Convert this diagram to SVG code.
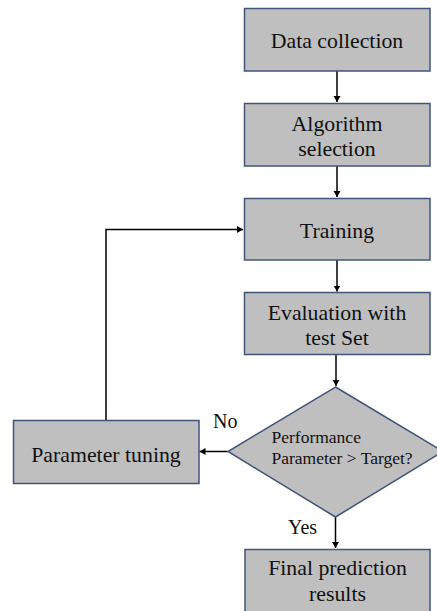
<svg xmlns="http://www.w3.org/2000/svg" width="437" height="611" viewBox="0 0 437 611">
<style>
.box{fill:#bfbfbf;stroke:#41557a;stroke-width:1.5}
.t{font-family:"Liberation Serif","Times New Roman",serif;font-size:21.8px;fill:#111;text-anchor:middle}
.s{font-family:"Liberation Serif","Times New Roman",serif;font-size:17.5px;fill:#111}
.l{font-family:"Liberation Serif","Times New Roman",serif;font-size:20px;fill:#111}
.c{fill:none;stroke:#000;stroke-width:1.5}
</style>
<defs>
<marker id="ah" markerWidth="8" markerHeight="8" refX="6" refY="3.5" orient="auto" markerUnits="userSpaceOnUse">
<path d="M0,0 L6,3.5 L0,7 Z" fill="#000"/>
</marker>
</defs>
<rect width="437" height="611" fill="#fff"/>
<g id="connectors">
<line class="c" x1="337" y1="71" x2="337" y2="102" marker-end="url(#ah)"/>
<line class="c" x1="337" y1="166" x2="337" y2="197" marker-end="url(#ah)"/>
<line class="c" x1="337" y1="260" x2="337" y2="291.5" marker-end="url(#ah)"/>
<line class="c" x1="336" y1="354.5" x2="336" y2="386" marker-end="url(#ah)"/>
<line class="c" x1="228" y1="451.5" x2="199.5" y2="451.5" marker-end="url(#ah)"/>
<polyline class="c" points="106,420.5 106,229.5 243,229.5" marker-end="url(#ah)"/>
<line class="c" x1="335.5" y1="517" x2="335.5" y2="548" marker-end="url(#ah)"/>
<text class="l" x="213" y="428">No</text>
<text class="l" x="288" y="534">Yes</text>
</g>
<g id="data-collection">
<rect class="box" x="244.5" y="8.5" width="185.5" height="62.5"/>
<text class="t" x="337" y="47.5">Data collection</text>
</g>
<g id="algorithm-selection">
<rect class="box" x="244.5" y="103.5" width="185.5" height="62.5"/>
<text class="t" x="337" y="130.5">Algorithm</text>
<text class="t" x="337" y="155.5">selection</text>
</g>
<g id="training">
<rect class="box" x="244.5" y="198.5" width="185.5" height="61.5"/>
<text class="t" x="337" y="237.5">Training</text>
</g>
<g id="evaluation">
<rect class="box" x="244.5" y="292.5" width="185.5" height="62"/>
<text class="t" x="337" y="320">Evaluation with</text>
<text class="t" x="337" y="345">test Set</text>
</g>
<g id="decision">
<polygon class="box" points="335.5,387 443,451.5 335.5,517 228,451.5"/>
<text class="s" x="271.5" y="443">Performance</text>
<text class="s" x="271.5" y="464">Parameter &gt; Target?</text>
</g>
<g id="parameter-tuning">
<rect class="box" x="13.5" y="420.5" width="185.5" height="63"/>
<text class="t" x="106" y="461.5">Parameter tuning</text>
</g>
<g id="final-results">
<rect class="box" x="245" y="549.5" width="185" height="64"/>
<text class="t" x="337.5" y="575">Final prediction</text>
<text class="t" x="337.5" y="601">results</text>
</g>
</svg>
